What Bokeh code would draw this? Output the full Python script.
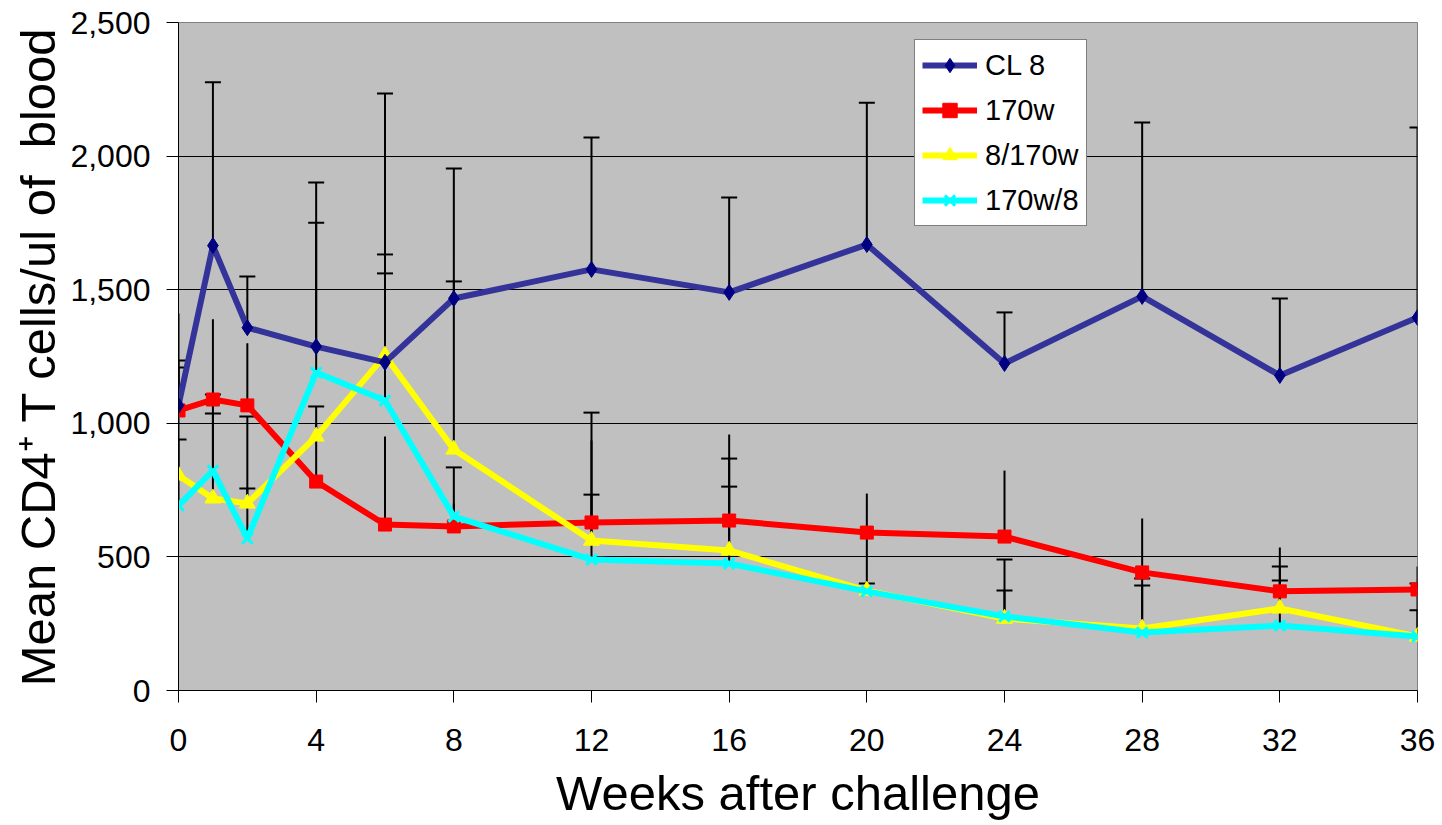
import numpy as np
from bokeh.plotting import figure
from bokeh.models import (Range1d, FixedTicker, NumeralTickFormatter, Legend,
                          LegendItem, ColumnDataSource)
from bokeh.embed import file_html
from bokeh.resources import INLINE

# ---- data ----
weeks = [0, 1, 2, 4, 6, 8, 12, 16, 20, 24, 28, 32, 36]
x_ticks = [0, 4, 8, 12, 16, 20, 24, 28, 32, 36]
y_ticks = [0, 500, 1000, 1500, 2000, 2500]

series_names = ["CL 8", "170w", "8/170w", "170w/8"]

cl8_mean = [1067, 1665, 1358, 1287, 1228, 1467, 1576, 1490, 1669, 1224, 1475, 1179, 1396]
cl8_upper = [1235, 2276, 1549, 1901, 2234, 1954, 2070, 1845, 2200, 1415, 2126, 1467, 2107]

w170_mean = [1048, 1089, 1067, 782, 621, 614, 629, 636, 591, 576, 442, 371, 378]
w170_upper = [1411, 1389, 1300, 1000, 951, 700, 936, 958, 737, 823, 644, 535, 464]

y8_170_mean = [805, 719, 700, 951, 1254, 902, 561, 524, 374, 269, 232, 307, 202]
y8_170_upper = [1209, 1037, 756, 1063, 1632, 1531, 1040, 868, 590, 490, 419, 464, 400]

c170_8_mean = [692, 823, 569, 1190, 1085, 651, 490, 475, 371, 277, 217, 243, 202]
c170_8_upper = [939, 1108, 1025, 1751, 1561, 835, 733, 763, 400, 374, 393, 412, 300]

FONT = "Liberation Sans"

p = figure(width=1442, height=825, x_range=Range1d(0, 36), y_range=Range1d(0, 2500),
           output_backend="svg", toolbar_location=None,
           min_border_left=178, min_border_right=25, min_border_top=22,
           min_border_bottom=135)

p.background_fill_color = "#c0c0c0"
p.border_fill_color = "white"
p.outline_line_color = "#808080"
p.outline_line_width = 1

# grid
p.xgrid.grid_line_color = None
p.ygrid.grid_line_color = "black"
p.ygrid.grid_line_width = 1
p.ygrid.ticker = FixedTicker(ticks=y_ticks)

# axes
p.xaxis.ticker = FixedTicker(ticks=x_ticks)
p.yaxis.ticker = FixedTicker(ticks=y_ticks)
p.yaxis.formatter = NumeralTickFormatter(format="0,0")
for ax in (p.xaxis[0], p.yaxis[0]):
    ax.axis_line_color = "black"
    ax.axis_line_width = 1
    ax.major_tick_line_color = "black"
    ax.major_tick_out = 12
    ax.major_tick_in = 0
    ax.minor_tick_line_color = None
    ax.major_label_text_font = FONT
    ax.major_label_text_font_size = "32px"
    ax.major_label_text_color = "black"
    ax.axis_label_text_font = FONT
    ax.axis_label_text_font_size = "49px"
    ax.axis_label_text_font_style = "normal"
    ax.axis_label_text_color = "black"

p.xaxis.axis_label = "Weeks after challenge"
p.yaxis.axis_label = "Mean CD4\u207a T cells/ul of \u00a0blood"
p.xaxis.major_label_standoff = 26
p.yaxis.major_label_standoff = 16
p.xaxis.axis_label_standoff = 12
p.yaxis.axis_label_standoff = 2

styles = [
    dict(mean=cl8_mean, upper=cl8_upper, color="#333399", mcolor="#000080",
         marker="diamond", msize=16, caps=True),
    dict(mean=w170_mean, upper=w170_upper, color="#ff0000", mcolor="#ff0000",
         marker="square", msize=13, caps=False),
    dict(mean=y8_170_mean, upper=y8_170_upper, color="#ffff00", mcolor="#ffff00",
         marker="triangle", msize=16, caps=True),
    dict(mean=c170_8_mean, upper=c170_8_upper, color="#00ffff", mcolor="#00ffff",
         marker="x", msize=15, caps=True),
]

# error bars (behind the lines)
for st in styles:
    src = ColumnDataSource(dict(x=weeks, y=st["mean"], up=st["upper"]))
    p.segment(x0="x", y0="y", x1="x", y1="up", source=src,
              line_color="black", line_width=2)
    if st["caps"]:
        p.scatter(x="x", y="up", source=src, marker="dash", size=16,
                  line_color="black", line_width=2)

# lines + markers; CL 8 drawn last so it sits on top
items = {}
for idx in [1, 2, 3, 0]:
    st = styles[idx]
    src = ColumnDataSource(dict(x=weeks, y=st["mean"]))
    ln = p.line(x="x", y="y", source=src, line_color=st["color"], line_width=6)
    if st["marker"] == "x":
        mk = p.scatter(x="x", y="y", source=src, marker="x", size=st["msize"],
                       line_color=st["mcolor"], line_width=3)
    else:
        mk = p.scatter(x="x", y="y", source=src, marker=st["marker"], size=st["msize"],
                       fill_color=st["mcolor"], line_color=st["mcolor"])
    items[idx] = LegendItem(label=series_names[idx], renderers=[ln, mk])

legend = Legend(items=[items[i] for i in range(4)], location=(736, 464))
legend.background_fill_color = "white"
legend.background_fill_alpha = 1.0
legend.border_line_color = "black"
legend.border_line_width = 1
legend.label_text_font = FONT
legend.label_text_font_size = "29px"
legend.label_text_color = "black"
legend.glyph_width = 55
legend.glyph_height = 36
legend.label_height = 36
legend.spacing = 9
legend.padding = 7
legend.margin = 0
legend.label_standoff = 8
p.add_layout(legend)

open("out.html", "w").write(file_html(p, INLINE))
